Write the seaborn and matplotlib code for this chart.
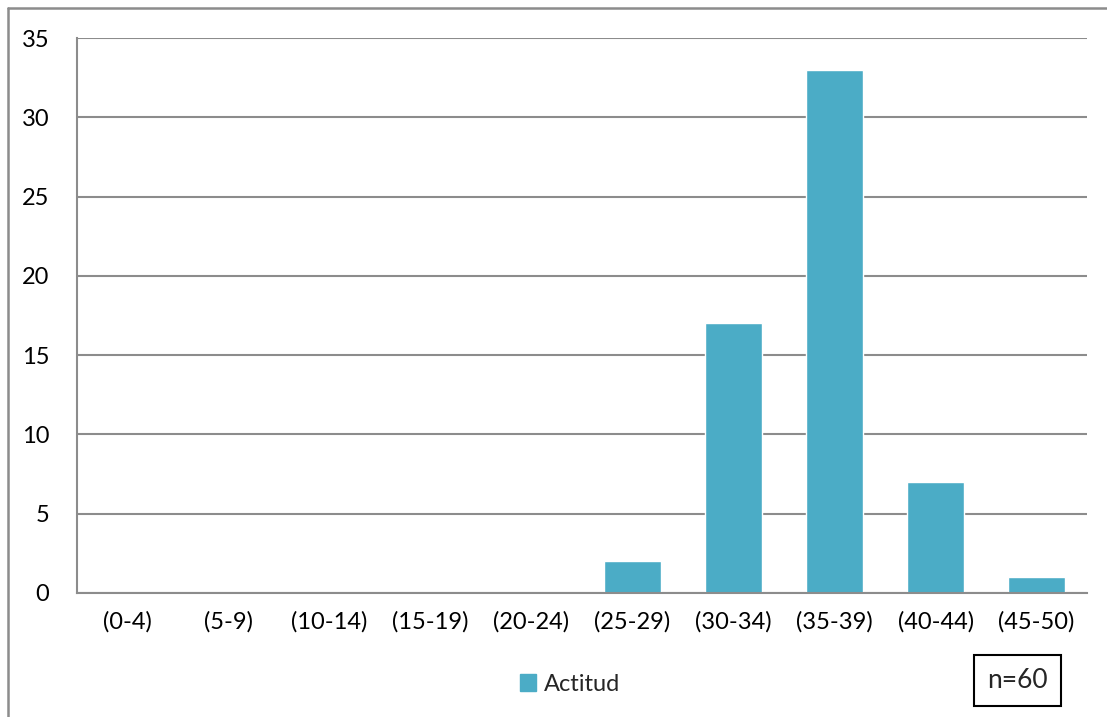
import matplotlib
matplotlib.use("Agg")
import matplotlib.pyplot as plt
import seaborn as sns
import pandas as pd
from matplotlib.lines import Line2D
from matplotlib.patches import Rectangle

# Data
categories = ['(0-4)', '(5-9)', '(10-14)', '(15-19)', '(20-24)',
              '(25-29)', '(30-34)', '(35-39)', '(40-44)', '(45-50)']
actitud = [0, 0, 0, 0, 0, 2, 17, 33, 7, 1]
series_name = 'Actitud'
sample_note = 'n=60'

sns.set_style("white")
plt.rcParams['font.family'] = ['Lato', 'DejaVu Sans']

bar_color = '#4BACC6'
grid_color = '#8C8C8C'

df = pd.DataFrame({'rango': categories, 'valor': actitud})

fig = plt.figure(figsize=(11.07, 7.17), dpi=100)
ax = fig.add_axes([0.0696, 0.173, 0.9124, 0.774])

sns.barplot(data=df, x='rango', y='valor', color=bar_color, width=0.57,
            saturation=1, ax=ax)

ax.set_ylim(0, 35)
ax.set_yticks(range(0, 36, 5))
ax.set_xlim(-0.5, len(categories) - 0.5)
ax.set_xlabel('')
ax.set_ylabel('')
ax.yaxis.grid(True, color=grid_color, linewidth=1.5)
ax.set_axisbelow(True)
ax.tick_params(axis='both', length=0, labelsize=17, colors='black')
ax.tick_params(axis='y', pad=20)
ax.tick_params(axis='x', pad=13)
for s in ['top', 'right']:
    ax.spines[s].set_visible(False)
for s in ['left', 'bottom']:
    ax.spines[s].set_color(grid_color)
    ax.spines[s].set_linewidth(1.5)

# Legend at bottom
handle = Rectangle((0, 0), 1, 1, color=bar_color)
fig.legend([handle], [series_name], loc='center', bbox_to_anchor=(0.515, 0.046),
           frameon=False, fontsize=17, handlelength=0.7, handleheight=0.7,
           handletextpad=0.35)

# n=60 box
fig.text(0.919, 0.051, sample_note, ha='center', va='center', fontsize=19,
         bbox=dict(boxstyle='square,pad=0.5', fc='white', ec='black', lw=1.5))

# outer chart frame (top and left edges visible)
fig.add_artist(Line2D([0.0072, 1.0], [0.989, 0.989], color='#8C8C8C', lw=1.8,
                      transform=fig.transFigure))
fig.add_artist(Line2D([0.0072, 0.0072], [0.0, 0.989], color='#8C8C8C', lw=1.8,
                      transform=fig.transFigure))

fig.savefig('out.png', dpi=100)
